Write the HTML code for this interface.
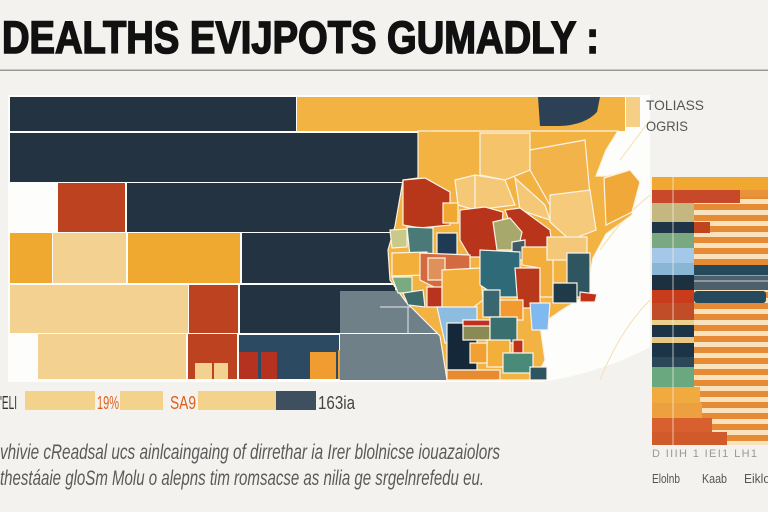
<!DOCTYPE html>
<html><head><meta charset="utf-8"><style>
html,body{margin:0;padding:0;background:#f3f2ef;}
svg{display:block;}
text{font-family:"Liberation Sans",sans-serif;}
</style></head><body>
<svg width="768" height="512" viewBox="0 0 768 512" xmlns="http://www.w3.org/2000/svg">
<defs>
<pattern id="stripes" patternUnits="userSpaceOnUse" x="0" y="0" width="10" height="11">
<rect width="10" height="11" fill="#e58b36"/>
<rect width="10" height="5" y="1" fill="#fae3bc"/>
</pattern>
</defs>
<rect width="768" height="512" fill="#f3f2ef"/>
<!-- title -->
<text x="2" y="53" font-size="45" font-weight="bold" fill="#111" stroke="#111" stroke-width="1.6" textLength="597" lengthAdjust="spacingAndGlyphs">DEALTHS EVIJPOTS GUMADLY :</text>
<rect x="0" y="69.5" width="768" height="1.5" fill="#9a9a98"/>

<!-- panel -->
<rect x="8" y="95" width="642" height="287" fill="#fdfdfc"/>
<path d="M535,383 Q600,374 652,346 L652,384 L535,384 Z" fill="#f3f2ef"/>
<!-- ocean lines -->
<path d="M600,380 Q620,330 650,300" stroke="#f6dfb0" stroke-width="1" fill="none"/>
<path d="M600,250 Q625,215 650,195" stroke="#f6dfb0" stroke-width="1" fill="none"/>
<path d="M620,160 Q635,140 650,120" stroke="#f6dfb0" stroke-width="1" fill="none"/>

<!-- row1 -->
<rect x="10" y="97" width="286" height="34" fill="#243342"/>
<rect x="297" y="97" width="328" height="34" fill="#f2b343"/>
<rect x="626" y="97" width="14" height="30" fill="#f5cf85"/>
<path d="M538,97 L600,97 L597,112 Q585,125 560,126 L540,126 Z" fill="#2d4156"/>
<!-- row2 -->
<rect x="10" y="133" width="420" height="49" fill="#243342"/>
<!-- row3 -->
<rect x="58" y="183" width="67" height="49" fill="#bd4320"/>
<rect x="127" y="183" width="290" height="49" fill="#243342"/>
<!-- row4 -->
<rect x="10" y="233" width="42" height="50" fill="#f0a930"/>
<rect x="53" y="233" width="73" height="50" fill="#f3d291"/>
<rect x="128" y="233" width="112" height="50" fill="#f0a930"/>
<rect x="242" y="233" width="155" height="50" fill="#243342"/>
<!-- row5 -->
<rect x="10" y="285" width="178" height="48" fill="#f3d291"/>
<rect x="189" y="285" width="49" height="48" fill="#bd4320"/>
<rect x="240" y="285" width="100" height="48" fill="#243342"/>
<rect x="340" y="290" width="98" height="43" fill="#6f8088"/>
<rect x="340" y="285" width="55" height="6" fill="#243342"/>
<line x1="408" y1="307" x2="408" y2="333" stroke="#e8eaea" stroke-width="1"/>
<line x1="380" y1="307" x2="438" y2="307" stroke="#e8eaea" stroke-width="1"/>
<!-- row6 -->
<rect x="38" y="334" width="148" height="45" fill="#f3d291"/>
<rect x="188" y="334" width="49" height="45" fill="#bd4320"/>
<rect x="195" y="363" width="17" height="16" fill="#f3d291"/>
<rect x="214" y="363" width="14" height="16" fill="#f3d291"/>
<rect x="239" y="335" width="100" height="44" fill="#2c4b62"/>
<rect x="239" y="352" width="19" height="27" fill="#b53220"/>
<rect x="261" y="352" width="16" height="27" fill="#b53220"/>
<rect x="310" y="352" width="26" height="27" fill="#f09c30"/>
<rect x="338" y="350" width="14" height="29" fill="#f09c30"/>
<rect x="352" y="334" width="95" height="46" fill="#6f8088"/>
<rect x="340" y="334" width="12" height="46" fill="#6f8088"/>

<!-- Africa map -->
<g stroke="#fbf3e6" stroke-width="1.2">
<path d="M418,131 L618,131 L606,150 L596,176 L606,176 L628,170 L640,180 L632,215 L606,234 L593,258 L586,295 L562,310 L540,325 L545,360 L535,380 L447,380 L440,336 L406,302 L390,280 L388,250 L395,226 L403,180 L418,178 Z" fill="#f2b343"/>
<path d="M480,133 L530,133 L530,170 L505,180 L480,175 Z" fill="#f5c46a"/>
<path d="M530,150 L585,140 L590,195 L550,205 L530,170 Z" fill="#f2b44a"/>
<path d="M475,175 L505,180 L515,205 L475,210 Z" fill="#f5c878"/>
<path d="M515,178 L545,205 L550,220 L520,210 Z" fill="#f5c878"/>
<path d="M550,195 L590,190 L596,230 L570,240 L550,222 Z" fill="#f5ca7a"/>
<path d="M604,178 L630,170 L640,182 L632,212 L606,225 Z" fill="#f0a838"/>
<path d="M455,180 L475,175 L475,210 L458,205 Z" fill="#f5c878"/>
<path d="M403,180 L425,178 L450,192 L450,225 L420,228 L403,225 Z" fill="#b8361a"/>
<path d="M443,203 L458,203 L458,223 L443,223 Z" fill="#f0a830"/>
<path d="M460,210 L485,207 L503,212 L500,257 L470,257 L460,240 Z" fill="#b8341a"/>
<path d="M505,210 L520,208 L550,230 L552,247 L520,250 Z" fill="#b8341a"/>
<path d="M493,222 L510,218 L522,232 L518,250 L497,250 Z" fill="#a6a86c"/>
<path d="M512,242 L525,240 L525,260 L512,260 Z" fill="#3e5a66"/>
<path d="M390,230 L407,229 L407,247 L392,248 Z" fill="#c9c98a"/>
<path d="M407,227 L433,228 L433,257 L410,257 Z" fill="#4a7a78"/>
<path d="M437,233 L457,233 L457,260 L437,260 Z" fill="#1e3a55"/>
<path d="M392,253 L427,252 L427,275 L392,276 Z" fill="#f2b03a"/>
<path d="M392,277 L412,277 L412,293 L398,293 Z" fill="#7aaa80"/>
<path d="M403,293 L423,290 L425,307 L408,305 Z" fill="#3d6a6a"/>
<path d="M420,253 L470,255 L470,290 L440,290 L420,280 Z" fill="#d46a40"/>
<path d="M428,258 L445,258 L445,280 L428,280 Z" fill="#e0905a"/>
<path d="M427,287 L442,287 L442,307 L427,307 Z" fill="#b8341e"/>
<path d="M442,270 L480,268 L483,300 L470,310 L442,310 Z" fill="#f2b03a"/>
<path d="M480,250 L520,252 L520,297 L498,297 L480,285 Z" fill="#2f6a78"/>
<path d="M515,268 L540,268 L540,308 L518,308 Z" fill="#b8381c"/>
<path d="M522,247 L553,247 L553,297 L540,297 L540,268 L522,265 Z" fill="#f2ad3c"/>
<path d="M547,237 L587,237 L587,260 L547,260 Z" fill="#f4c878"/>
<path d="M567,253 L590,253 L590,297 L567,297 Z" fill="#2f5560"/>
<path d="M553,283 L577,283 L577,303 L553,303 Z" fill="#1f3a48"/>
<path d="M580,292 L597,294 L595,302 L580,302 Z" fill="#c0301a"/>
<path d="M437,307 L477,307 L477,343 L445,343 Z" fill="#8cbde0"/>
<path d="M530,303 L550,303 L548,330 L532,330 Z" fill="#80b8f0"/>
<path d="M483,290 L500,290 L500,317 L483,317 Z" fill="#3a6670"/>
<path d="M500,300 L523,300 L523,320 L500,320 Z" fill="#f29a30"/>
<path d="M447,323 L477,323 L477,370 L447,370 Z" fill="#15283a"/>
<path d="M463,320 L490,320 L490,340 L463,340 Z" fill="#8a8a55"/>
<path d="M463,320 L490,320 L490,326 L463,326 Z" fill="#c03020"/>
<path d="M490,317 L517,317 L517,343 L490,343 Z" fill="#3a6f70"/>
<path d="M487,340 L510,340 L510,367 L487,367 Z" fill="#f2b03a"/>
<path d="M470,343 L487,343 L487,363 L470,363 Z" fill="#f2a030"/>
<path d="M513,340 L523,340 L523,353 L513,353 Z" fill="#c0301a"/>
<path d="M503,353 L533,353 L533,373 L503,373 Z" fill="#4a8a78"/>
<path d="M447,370 L500,370 L500,380 L447,380 Z" fill="#e88a30"/>
<path d="M530,367 L547,367 L547,380 L530,380 Z" fill="#2f5560"/>
</g>

<!-- right chart -->
<text x="646" y="110" font-size="14" fill="#555" textLength="58" lengthAdjust="spacingAndGlyphs">TOLIASS</text>
<text x="646" y="131" font-size="14" fill="#555" textLength="42" lengthAdjust="spacingAndGlyphs">OGRIS</text>
<rect x="652" y="177" width="116" height="268" fill="url(#stripes)"/>
<rect x="652" y="177" width="116" height="13" fill="#f0a830"/>
<rect x="652" y="190" width="88" height="13" fill="#c8482a"/>
<rect x="740" y="190" width="28" height="7" fill="#e8923a"/>
<rect x="652" y="203" width="42" height="19" fill="#c4b880"/>
<rect x="652" y="222" width="42" height="11" fill="#1f3446"/>
<rect x="694" y="222" width="16" height="11" fill="#c0441e"/>
<rect x="652" y="233" width="42" height="15" fill="#7aa880"/>
<rect x="652" y="248" width="42" height="15" fill="#a4c8e8"/>
<rect x="652" y="263" width="42" height="12" fill="#8ab6d6"/>
<rect x="694" y="265" width="74" height="10" fill="#264a5c"/>
<rect x="652" y="275" width="42" height="15" fill="#1c3040"/>
<rect x="694" y="276" width="74" height="14" fill="#4e606c"/>
<rect x="694" y="280" width="74" height="2" fill="#8a9aa4"/>
<rect x="652" y="290" width="42" height="13" fill="#c83c1c"/>
<rect x="694" y="291" width="72" height="12" rx="3" fill="#264a5c"/>
<rect x="652" y="303" width="42" height="17" fill="#c04c28"/>
<rect x="652" y="320" width="42" height="5" fill="#ead08a"/>
<rect x="652" y="325" width="42" height="12" fill="#1c3448"/>
<rect x="652" y="337" width="42" height="6" fill="#e8c880"/>
<rect x="652" y="343" width="42" height="14" fill="#1c3448"/>
<rect x="652" y="357" width="42" height="10" fill="#2a4858"/>
<rect x="652" y="367" width="42" height="20" fill="#6aa880"/>
<rect x="652" y="387" width="48" height="16" fill="#f0aa40"/>
<rect x="652" y="403" width="50" height="15" fill="#eca040"/>
<rect x="652" y="418" width="60" height="14" fill="#d8602e"/>
<rect x="652" y="432" width="75" height="13" fill="#d05a2a"/>
<line x1="673" y1="177" x2="673" y2="445" stroke="#f6efe2" stroke-width="1" opacity="0.7"/>
<text x="652" y="457" font-size="11" fill="#999" textLength="105" lengthAdjust="spacing">D   IIIH 1 IEI1   LH1</text>
<text x="652" y="483" font-size="13" fill="#555" textLength="28" lengthAdjust="spacingAndGlyphs">Elolnb</text>
<text x="702" y="483" font-size="13" fill="#555" textLength="25" lengthAdjust="spacingAndGlyphs">Kaab</text>
<text x="744" y="483" font-size="13" fill="#555" textLength="26" lengthAdjust="spacingAndGlyphs">Eiklo</text>

<!-- bottom legend -->
<text x="0" y="409" font-size="18" fill="#333" textLength="17" lengthAdjust="spacingAndGlyphs">'ELI</text>
<rect x="25" y="391" width="70" height="19" fill="#f3d28c"/>
<text x="97" y="409" font-size="18" fill="#e0601a" textLength="22" lengthAdjust="spacingAndGlyphs">19%</text>
<rect x="120" y="391" width="43" height="19" fill="#f3d28c"/>
<text x="170" y="409" font-size="18" fill="#e0601a" textLength="26" lengthAdjust="spacingAndGlyphs">SA9</text>
<rect x="198" y="391" width="78" height="19" fill="#f3d28c"/>
<rect x="276" y="391" width="40" height="19" fill="#3e5060"/>
<text x="318" y="409" font-size="18" fill="#444" textLength="37" lengthAdjust="spacingAndGlyphs">163ia</text>

<!-- caption -->
<text x="0" y="459" font-size="21" fill="#5a5a5a" font-style="italic" textLength="500" lengthAdjust="spacingAndGlyphs">vhivie cReadsal ucs ainlcaingaing of dirrethar ia Irer blolnicse iouazaiolors</text>
<text x="0" y="485" font-size="21" fill="#5a5a5a" font-style="italic" textLength="484" lengthAdjust="spacingAndGlyphs">thestáaie gloSm Molu o alepns tim romsacse as nilia ge srgelnrefedu eu.</text>
</svg>
</body></html>
